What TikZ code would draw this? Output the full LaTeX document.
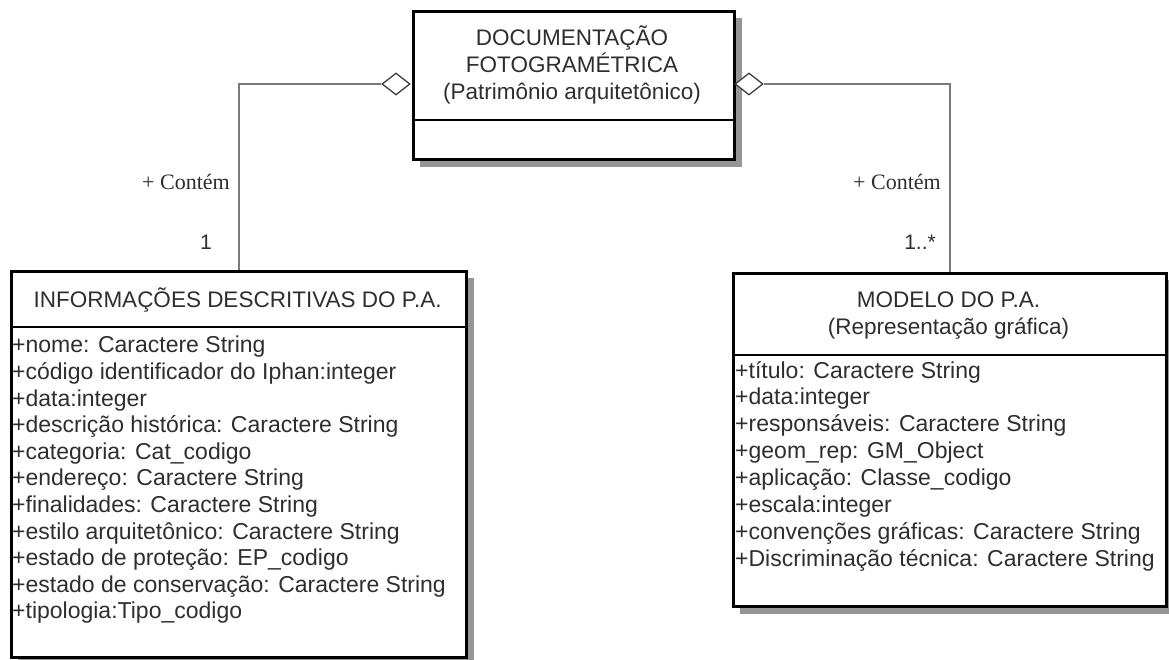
\documentclass[tikz,border=0pt]{standalone}
\usepackage{fontspec}
\setmainfont{Liberation Sans}
\newfontfamily\serifx{Liberation Serif}
\usetikzlibrary{shapes.geometric}
\definecolor{txt}{HTML}{2E2E2E}
\definecolor{conn}{HTML}{7A7A7A}
\definecolor{shad}{RGB}{150,150,150}
\begin{document}
\begin{tikzpicture}[x=1pt,y=-1pt,
  umlbox/.style={draw=black,line width=2.6pt,fill=white,inner sep=0pt,anchor=north west},
  divline/.style={draw=black,line width=2.6pt},
  connline/.style={draw=conn,line width=1.6pt},
  agg/.style={diamond,draw=black!75,line width=1.3pt,fill=white,inner sep=0pt,minimum width=28pt,minimum height=22pt},
  ttl/.style={font=\fontsize{22.5}{27}\selectfont,text=txt,align=center,inner sep=0pt},
  attr/.style={font=\fontsize{23}{27}\selectfont,text=txt,anchor=west,inner sep=0pt},
  role/.style={font=\serifx\fontsize{22}{26}\selectfont,text=txt,anchor=east,inner sep=0pt},
  mult/.style={font=\fontsize{21}{25}\selectfont,text=txt,anchor=east,inner sep=0pt}]
\fill[white] (0,0) rectangle (1169,660);
\useasboundingbox (0,0) rectangle (1169,660);

% shadows
\path[fill=shad] (420,18) rectangle (742,167);
\path[fill=shad] (18,278) rectangle (474,664);
\path[fill=shad] (740,280) rectangle (1173,614);

% boxes
\node[umlbox,minimum width=321pt,minimum height=148pt] (doc) at (412,10) {};
\node[umlbox,minimum width=455pt,minimum height=386pt] (info) at (10,270) {};
\node[umlbox,minimum width=433pt,minimum height=333pt] (modelo) at (732,272) {};

% dividers
\coordinate (d1) at (0,120);
\coordinate (d2) at (0,327);
\coordinate (d3) at (0,355);
\draw[divline] (doc.west |- d1) -- (doc.east |- d1);
\draw[divline] (info.west |- d2) -- (info.east |- d2);
\draw[divline] (modelo.west |- d3) -- (modelo.east |- d3);

% titles
\node[ttl] (doct) at (572,65) {DOCUMENTAÇÃO\\FOTOGRAMÉTRICA\\(Patrimônio arquitetônico)};
\node[ttl] (infot) at (237.5,300) {INFORMAÇÕES DESCRITIVAS DO P.A.};
\node[ttl] (modt) at (948.5,316) {MODELO DO P.A.\\(Representação gráfica)};

% attributes
\foreach \t [count=\i] in {+nome: Caractere String,
  +código identificador do Iphan:integer,
  +data:integer,
  +descrição histórica: Caractere String,
  +categoria: Cat\_codigo,
  +endereço: Caractere String,
  +finalidades: Caractere String,
  +estilo arquitetônico: Caractere String,
  +estado de proteção: EP\_codigo,
  +estado de conservação: Caractere String,
  +tipologia:Tipo\_codigo}
  \node[attr] (ia\i) at (12,{347+26.6*(\i-1)}) {\t};

\foreach \t [count=\i] in {+título: Caractere String,
  +data:integer,
  +responsáveis: Caractere String,
  +geom\_rep: GM\_Object,
  +aplicação: Classe\_codigo,
  +escala:integer,
  +convenções gráficas: Caractere String,
  +Discriminação técnica: Caractere String}
  \node[attr] (ma\i) at (735,{372+26.9*(\i-1)}) {\t};

% aggregation diamonds
\node[agg] (dl) at (396,84) {};
\node[agg] (dr) at (749,84) {};

% connectors
\draw[connline] (dl.west) -| (info.north);
\draw[connline] (dr.east) -| (modelo.north);

% labels
\node[role] (rl) at (230,182) {+ Contém};
\node[mult] (ml) at (212,242) {1};
\node[role] (rr) at (941,182) {+ Contém};
\node[mult] (mr) at (936,242) {1..*};
\end{tikzpicture}
\end{document}
